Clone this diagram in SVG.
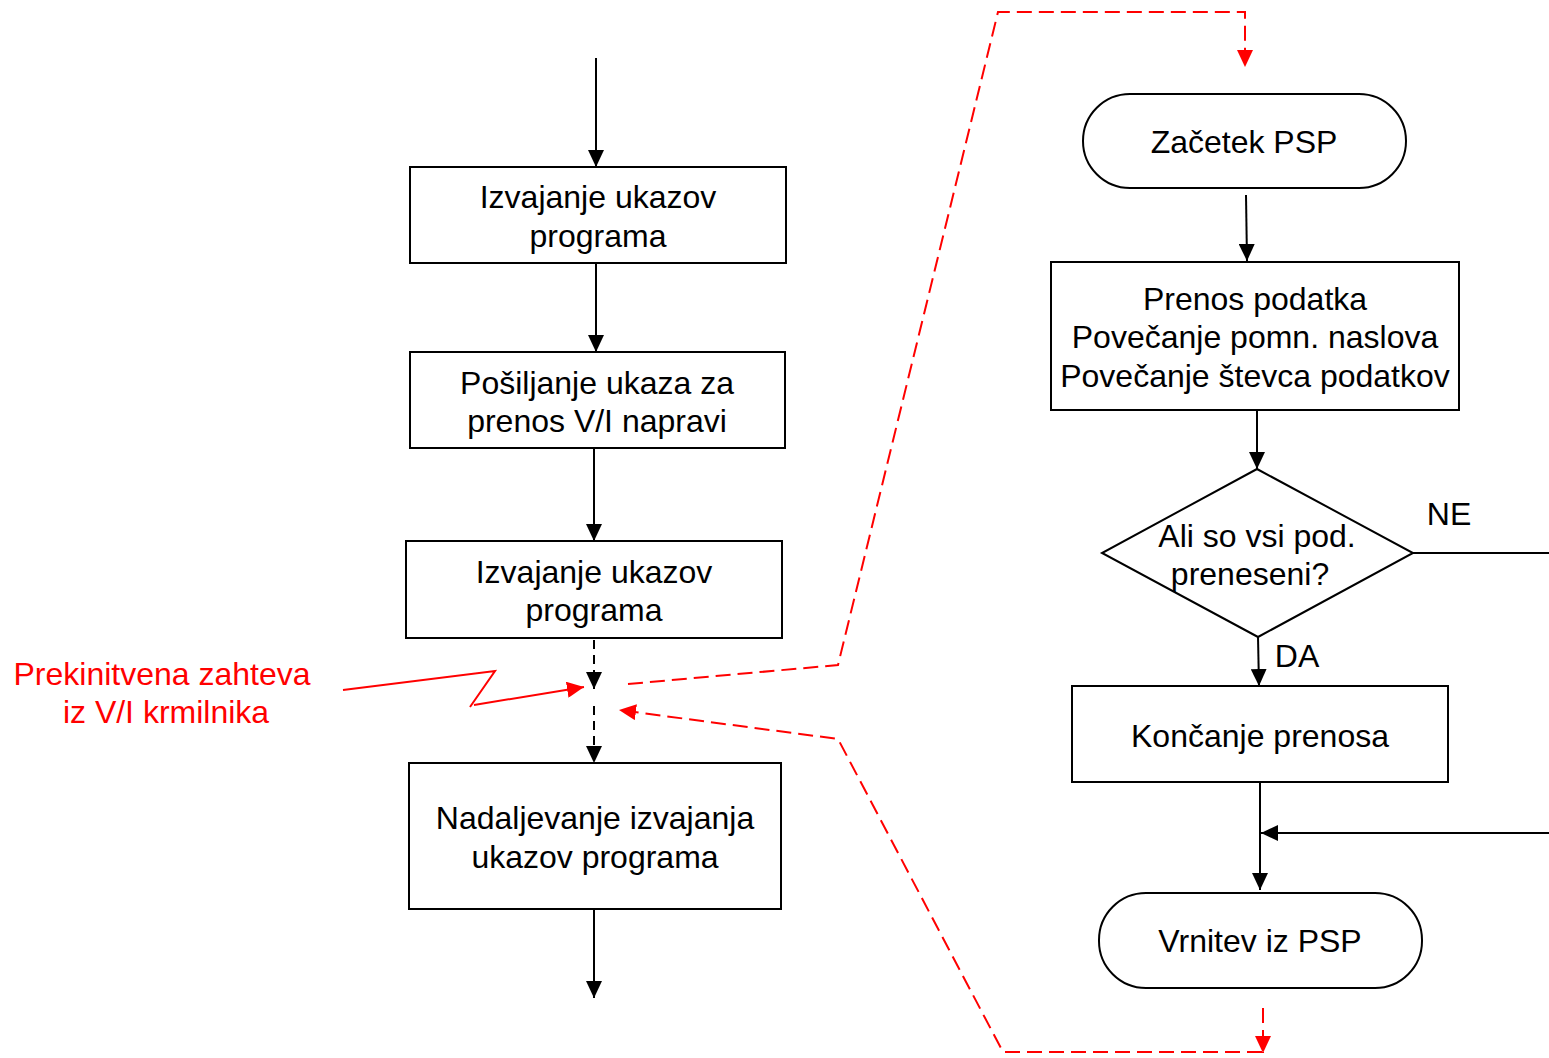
<svg xmlns="http://www.w3.org/2000/svg" width="1549" height="1058" viewBox="0 0 1549 1058">
<defs>
<style>
text{font-family:"Liberation Sans",Arial,sans-serif;font-size:32px;text-anchor:middle;fill:#000}
.r{fill:#f00}
.box{fill:#fff;stroke:#000;stroke-width:2}
.ln{fill:none;stroke:#000;stroke-width:2}
.dl{fill:none;stroke:#000;stroke-width:2;stroke-dasharray:9 6}
.red{fill:none;stroke:#f00;stroke-width:2}
.rd{fill:none;stroke:#f00;stroke-width:2;stroke-dasharray:15 7}
</style>
<marker id="ab" markerUnits="userSpaceOnUse" markerWidth="18" markerHeight="16" refX="17" refY="8" orient="auto"><path d="M0,0 L17,8 L0,16 Z" fill="#000"/></marker>
<marker id="ar" markerUnits="userSpaceOnUse" markerWidth="18" markerHeight="16" refX="17" refY="8" orient="auto"><path d="M0,0 L17,8 L0,16 Z" fill="#f00"/></marker>
</defs>
<rect width="1549" height="1058" fill="#fff"/>
<g id="connectors">
<path class="ln" d="M596,58 V167" marker-end="url(#ab)"/>
<path class="ln" d="M596,263 V352" marker-end="url(#ab)"/>
<path class="ln" d="M594,448 V541" marker-end="url(#ab)"/>
<path class="dl" d="M594,640 V689" marker-end="url(#ab)"/>
<path class="dl" d="M594,706 V763" marker-end="url(#ab)"/>
<path class="ln" d="M594,909 V998" marker-end="url(#ab)"/>
<path class="ln" d="M1246,195 L1247,261" marker-end="url(#ab)"/>
<path class="ln" d="M1257,410 V469" marker-end="url(#ab)"/>
<path class="ln" d="M1258,637 L1259,686" marker-end="url(#ab)"/>
<path class="ln" d="M1413,553 H1549"/>
<path class="ln" d="M1260,782 V890" marker-end="url(#ab)"/>
<path class="ln" d="M1549,833 H1261" marker-end="url(#ab)"/>
<path class="red" d="M343,690 L495,671 L470,707 M474,705 L584,687" marker-end="url(#ar)"/>
<path class="rd" d="M628,684 L838,665 L998,12 H1245 V67" marker-end="url(#ar)"/>
<path class="rd" d="M1262,1052 H1003 L838,739 L619,710" marker-end="url(#ar)"/>
<path class="rd" d="M1263,1008 V1053" marker-end="url(#ar)"/>
</g>
<g id="n1"><rect class="box" x="410" y="167" width="376" height="96"/><text x="598" y="208">Izvajanje ukazov</text><text x="598" y="247">programa</text></g>
<g id="n2"><rect class="box" x="410" y="352" width="375" height="96"/><text x="597" y="394">Pošiljanje ukaza za</text><text x="597" y="432">prenos V/I napravi</text></g>
<g id="n3"><rect class="box" x="406" y="541" width="376" height="97"/><text x="594" y="583">Izvajanje ukazov</text><text x="594" y="621">programa</text></g>
<g id="n4"><rect class="box" x="409" y="763" width="372" height="146"/><text x="595" y="829">Nadaljevanje izvajanja</text><text x="595" y="868">ukazov programa</text></g>
<g id="irq"><text class="r" x="162" y="685">Prekinitvena zahteva</text><text class="r" x="166" y="723">iz V/I krmilnika</text></g>
<g id="start"><rect class="box" x="1083" y="94" width="323" height="94" rx="47"/><text x="1244" y="153">Začetek PSP</text></g>
<g id="transfer"><rect class="box" x="1051" y="262" width="408" height="148"/><text x="1255" y="310">Prenos podatka</text><text x="1255" y="348">Povečanje pomn. naslova</text><text x="1255" y="387">Povečanje števca podatkov</text></g>
<g id="decision"><path class="box" d="M1257,469 L1413,553 L1258,637 L1102,553 Z"/><text x="1257" y="547">Ali so vsi pod.</text><text x="1250" y="585">preneseni?</text></g>
<g id="labels"><text x="1449" y="525">NE</text><text x="1297" y="667">DA</text></g>
<g id="end"><rect class="box" x="1072" y="686" width="376" height="96"/><text x="1260" y="747">Končanje prenosa</text></g>
<g id="ret"><rect class="box" x="1099" y="893" width="323" height="95" rx="47"/><text x="1260" y="952">Vrnitev iz PSP</text></g>
</svg>
